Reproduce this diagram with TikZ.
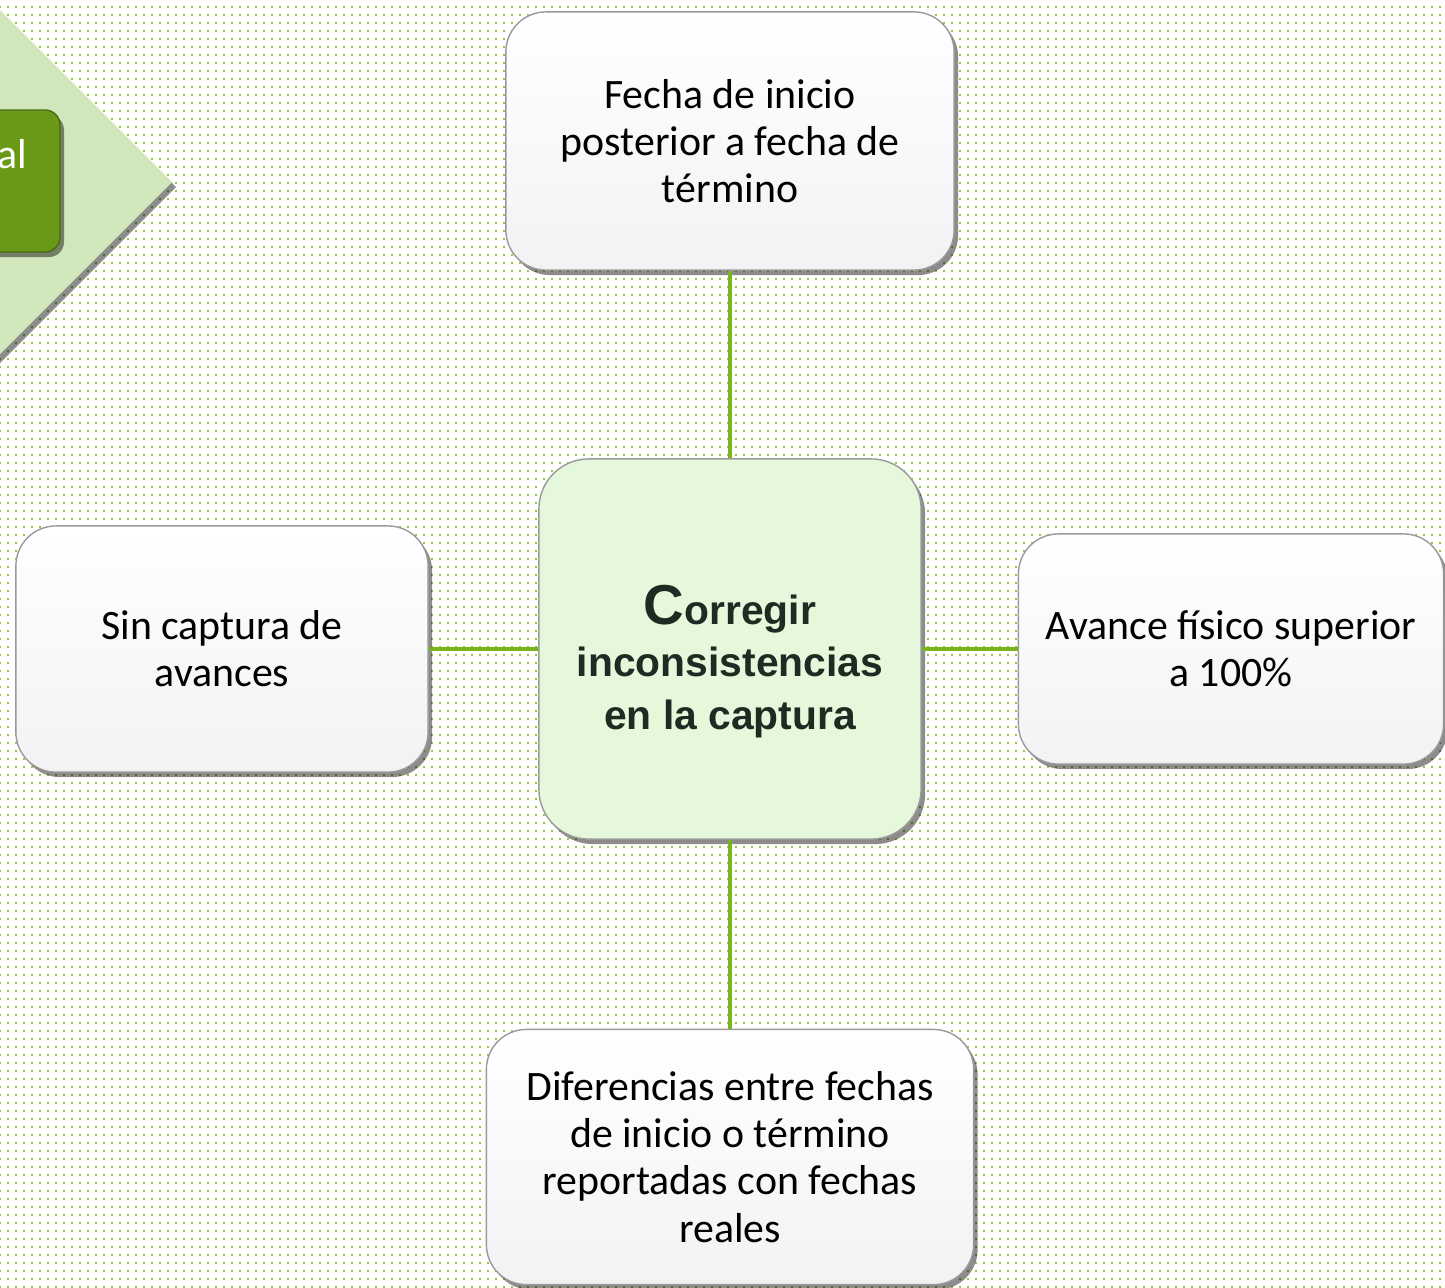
\documentclass[tikz,border=0pt]{standalone}
\usepackage{fontspec}
\setmainfont{Carlito}
\newfontfamily\hubfont{Liberation Sans}
\usetikzlibrary{shadows,patterns,positioning}
\definecolor{dotgreen}{HTML}{92C83E}
\definecolor{linkgreen}{HTML}{7AB422}
\definecolor{chevgreen}{HTML}{D0E6BB}
\definecolor{boxgreen}{HTML}{6A9917}
\definecolor{hubfill}{HTML}{E6F8DC}
\definecolor{hubtext}{HTML}{1F2B22}
\definecolor{rim}{HTML}{9A9A9A}
\pgfdeclarepatternformonly{bgdots}{\pgfqpoint{0pt}{0pt}}{\pgfqpoint{2.3pt}{2.3pt}}{\pgfqpoint{2.3pt}{2.3pt}}{%
  \pgfpathrectangle{\pgfqpoint{0pt}{0pt}}{\pgfqpoint{0.6pt}{0.6pt}}\pgfusepath{fill}}

\begin{document}
\begin{tikzpicture}[x=0.01cm,y=-0.01cm,
    shade/.style={drop shadow={shadow xshift=0.04cm,shadow yshift=-0.05cm,fill=black,opacity=0.45}},
    issue/.style={shade,draw=rim,line width=0.4pt,rounded corners=0.4cm,
      top color=white,bottom color=gray!10,align=center,
      font=\fontsize{11.9pt}{13.4pt}\selectfont},
    hub/.style={shade,draw=rim,line width=0.4pt,rounded corners=0.5cm,fill=hubfill,
      align=center,text=hubtext,text height=47.9pt,
      font=\hubfont\bfseries\fontsize{11.6pt}{14.8pt}\selectfont},
    link/.style={draw=linkgreen,line width=1.1pt}]
    %% Page and dotted background
    \useasboundingbox (0,0) rectangle (1445,1287);
    \clip (0,0) rectangle (1445,1287);
    \fill[white] (0,0) rectangle (1445,1287);
    \fill[pattern=bgdots,pattern color=dotgreen] (0,0) rectangle (1445,1287);
    %% Chevron at the top left
    \fill[chevgreen,shade] (-10,0) -- (172,182) -- (-10,364) -- cycle;
    \draw[shade,fill=boxgreen,draw=boxgreen!70!black,rounded corners=0.15cm] (-30,110) rectangle (60,252);
    \node[text=white,inner sep=0pt,anchor=base east,font=\fontsize{11.9pt}{13.4pt}\selectfont] (chevlbl) at (28,168) {al};
    %% Boxes
    \node[issue,minimum width=4.48cm,minimum height=2.58cm] (start) at (730,141)
      {Fecha de inicio\\posterior a fecha de\\término};
    \node[hub,minimum width=3.82cm,minimum height=3.80cm] (hub) at (730,649)
      {{\fontsize{16pt}{14.8pt}\selectfont C}orregir\\inconsistencias\\en la captura};
    \node[issue,minimum width=4.12cm,minimum height=2.46cm] (noadv) at (222,649)
      {Sin captura de\\avances};
    \node[issue,minimum width=4.25cm,minimum height=2.30cm] (over) at (1231,649)
      {Avance físico superior\\a 100\%};
    \node[issue,minimum width=4.87cm,minimum height=2.55cm] (dates) at (730,1157)
      {Diferencias entre fechas\\de inicio o término\\reportadas con fechas\\reales};
    %% Links
    \draw[link] (start) -- (hub);
    \draw[link] (hub) -- (dates);
    \draw[link] (noadv) -- (hub);
    \draw[link] (hub) -- (over);
\end{tikzpicture}
\end{document}
